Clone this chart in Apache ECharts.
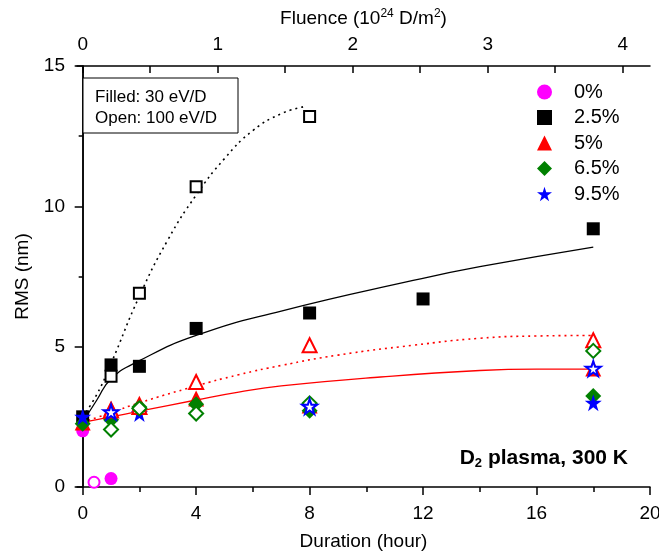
<!DOCTYPE html>
<html>
<head>
<meta charset="utf-8">
<script src="https://cdn.jsdelivr.net/npm/echarts@6/dist/echarts.min.js"></script>
<style>html,body{margin:0;padding:0;background:#fff}#c{width:659px;height:555px}</style>
</head>
<body>
<div id="c"></div>
<script>
// ---- data ----
const legendNames = ['0%', '2.5%', '5%', '6.5%', '9.5%'];
const xTicks = [0, 4, 8, 12, 16, 20];
const xMinorTicks = [2, 6, 10, 14, 18];
const fluenceTicks = [0, 0.5, 1, 1.5, 2, 2.5, 3, 3.5, 4];
const fluenceLabels = [0, 1, 2, 3, 4];

const pct0Filled = [[0, 2.0], [1, 0.3]];
const pct0Open = [[0.4, 0.17]];
const pct25Filled = [[0, 2.5], [1, 4.35], [2, 4.3], [4, 5.65], [8, 6.2], [12, 6.7], [18, 9.2]];
const pct25Open = [[1, 3.95], [2, 6.9], [4, 10.7], [8, 13.2]];
const pct5Filled = [[0, 2.3], [1, 2.8], [2, 2.97], [4, 3.15], [8, 2.9], [18, 4.22]];
const pct5Open = [[1, 2.73], [2, 2.85], [4, 3.74], [8, 5.05], [18, 5.23]];
const pct65Filled = [[0, 2.25], [1, 2.4], [2, 2.85], [4, 2.95], [8, 2.72], [18, 3.24]];
const pct65Open = [[1, 2.05], [2, 2.8], [4, 2.62], [8, 2.98], [18, 4.85]];
const pct95Filled = [[0, 2.5], [2, 2.62], [18, 3.0]];
const pct95Open = [[1, 2.67], [8, 2.87], [18, 4.22]];

const fitBlackSolid = [[0, 2.3], [0.5, 3.1], [1, 3.85], [2, 4.5], [4, 5.4], [7, 6.27], [11.65, 7.36], [14, 7.85], [18, 8.55]];
const fitBlackDotted = [[0, 2.5], [0.5, 3.3], [1, 4.4], [2, 6.8], [3, 8.8], [4, 10.4], [5, 11.7], [6, 12.7], [7, 13.3], [7.8, 13.55]];
const fitRedSolid = [[0, 2.3], [1, 2.5], [2, 2.7], [4, 3.1], [5.5, 3.38], [7, 3.6], [10.5, 3.92], [14, 4.15], [16, 4.2], [18, 4.2]];
const fitRedDotted = [[0, 2.3], [1, 2.65], [2, 3.0], [4, 3.6], [5.5, 4.0], [7, 4.33], [9, 4.7], [11.65, 5.05], [14, 5.3], [16, 5.38], [18, 5.4]];

// ---- styles ----
const FONT = '"Liberation Sans", Arial, sans-serif';
const STAR = 'path://M50,0 L61.2,34.5 L97.6,34.5 L68.2,55.9 L79.4,90.5 L50,69.1 L20.6,90.5 L31.8,55.9 L2.4,34.5 L38.8,34.5 Z';
const colors = ['#ff00ff', '#000000', '#ff0000', '#008000', '#0000ff'];
const symbols = ['circle', 'rect', 'triangle', 'diamond', STAR];
const sizes = [13, 13, 16, 16, 17];
const filledData = [pct0Filled, pct25Filled, pct5Filled, pct65Filled, pct95Filled];
const openData = [pct0Open, pct25Open, pct5Open, pct65Open, pct95Open];

const axisLine = {show: true, lineStyle: {color: '#000', width: 1.5}};
const series = [];
function fit(data, color, type, w) {
  series.push({type: 'line', data: data, smooth: true, symbol: 'none', silent: true, z: 1,
    lineStyle: {color: color, width: w, type: type}});
}
fit(fitBlackDotted, '#000', [2, 4], 1.6);
fit(fitBlackSolid, '#000', 'solid', 1.3);
fit(fitRedDotted, '#ff0000', [2, 4], 1.6);
fit(fitRedSolid, '#ff0000', 'solid', 1.3);
for (let i = 0; i < 5; i++) {
  series.push({type: 'scatter', name: legendNames[i], data: filledData[i], symbol: symbols[i],
    symbolSize: sizes[i], z: 3, itemStyle: {color: colors[i], opacity: 1}});
}
for (let i = 0; i < 5; i++) {
  series.push({type: 'scatter', name: legendNames[i] + ' open', data: openData[i], symbol: symbols[i],
    symbolSize: sizes[i] - 2, z: 4, itemStyle: {color: '#fff', borderColor: colors[i], borderWidth: 2, opacity: 1}});
}

const option = {
  animation: false,
  backgroundColor: '#fff',
  textStyle: {fontFamily: FONT},
  grid: {left: 77, right: 9, top: 66, bottom: 68, containLabel: false, outerBoundsMode: 'none'},
  legend: {
    orient: 'vertical', left: 532, top: 77, itemWidth: 15, itemHeight: 15, itemGap: 5.5,
    data: legendNames.map((n, i) => ({name: n, icon: symbols[i]})),
    textStyle: {fontSize: 20, color: '#000', fontFamily: FONT, lineHeight: 20, padding: [0, 0, 0, 17]}
  },
  xAxis: [
    {type: 'value', position: 'bottom', min: -0.2, max: 20,
      name: 'Duration (hour)', nameLocation: 'middle', nameGap: 45,
      nameTextStyle: {fontSize: 19, color: '#000', fontFamily: FONT},
      axisLine: axisLine, splitLine: {show: false},
      axisTick: {show: true, inside: false, length: 8, customValues: xTicks, lineStyle: {color: '#000', width: 1.5}},
      axisLabel: {customValues: xTicks, fontSize: 19, color: '#000', margin: 17, fontFamily: FONT}},
    {type: 'value', position: 'bottom', min: -0.2, max: 20,
      axisLine: {show: false}, splitLine: {show: false},
      axisTick: {show: true, inside: false, length: 5, customValues: xMinorTicks, lineStyle: {color: '#000', width: 1.5}},
      axisLabel: {show: false}},
    {type: 'value', position: 'top', min: -0.042, max: 4.202,
      name: 'Fluence (10{sup|24} D/m{sup|2})', nameLocation: 'middle', nameGap: 37,
      nameTextStyle: {fontSize: 19, color: '#000', fontFamily: FONT,
        rich: {sup: {fontSize: 12, color: '#000', fontFamily: FONT, padding: [0, 0, 9, 0]}}},
      axisLine: axisLine, splitLine: {show: false},
      axisTick: {show: true, inside: true, length: 7, customValues: fluenceTicks, lineStyle: {color: '#000', width: 1.5}},
      axisLabel: {customValues: fluenceLabels, fontSize: 19, color: '#000', margin: 12, fontFamily: FONT}}
  ],
  yAxis: [
    {type: 'value', position: 'left', min: 0, max: 15, interval: 5,
      name: 'RMS (nm)', nameLocation: 'middle', nameGap: 45, nameRotate: 90,
      nameTextStyle: {fontSize: 19, color: '#000', fontFamily: FONT},
      axisLine: axisLine, splitLine: {show: false},
      axisTick: {show: true, inside: false, length: 8, lineStyle: {color: '#000', width: 1.5}},
      minorTick: {show: true, splitNumber: 2, length: 4, lineStyle: {color: '#000', width: 1.5}},
      minorSplitLine: {show: false},
      axisLabel: {fontSize: 19, color: '#000', margin: 12, fontFamily: FONT}},
    {type: 'value', position: 'right', min: 0, max: 15, interval: 5,
      axisLine: axisLine, splitLine: {show: false},
      axisTick: {show: true, inside: true, length: 7, lineStyle: {color: '#000', width: 1.5}},
      minorTick: {show: true, splitNumber: 2, length: 4, lineStyle: {color: '#000', width: 1.5}},
      minorSplitLine: {show: false},
      axisLabel: {show: false}}
  ],
  graphic: [
    {type: 'rect', shape: {x: 83, y: 78, width: 155, height: 55}, style: {fill: '#fff', stroke: '#000', lineWidth: 1}, z: 10},
    {type: 'text', x: 95, y: 97, z: 11, style: {text: 'Filled: 30 eV/D', font: '17px ' + FONT, fill: '#000', verticalAlign: 'middle'}},
    {type: 'text', x: 95, y: 118.5, z: 11, style: {text: 'Open: 100 eV/D', font: '17px ' + FONT, fill: '#000', verticalAlign: 'middle'}},
    {type: 'text', x: 628, y: 458, z: 11, style: {
      text: '{b|D}{s|2}{b| plasma, 300 K}', align: 'right', verticalAlign: 'middle',
      rich: {b: {fontSize: 21, fontWeight: 'bold', fontFamily: FONT, fill: '#000', color: '#000'},
             s: {fontSize: 13, fontWeight: 'bold', fontFamily: FONT, fill: '#000', color: '#000', padding: [10, 0, 0, 0]}}}}
  ],
  series: series
};
const chart = echarts.init(document.getElementById('c'), null, {renderer: 'canvas'});
chart.setOption(option);
</script>
</body>
</html>
